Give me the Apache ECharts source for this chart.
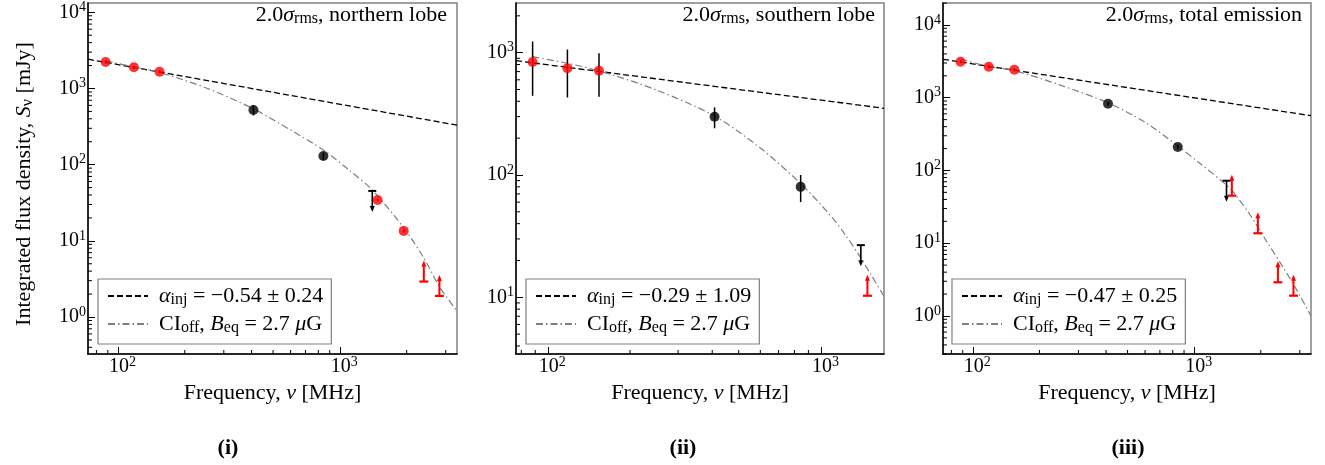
<!DOCTYPE html>
<html>
<head>
<meta charset="utf-8">
<script src="https://cdn.jsdelivr.net/npm/echarts@6/dist/echarts.min.js"></script>
<style>
html, body { margin: 0; padding: 0; background: #fff; }
#chart { width: 1325px; height: 465px; }
</style>
</head>
<body>
<div id="chart"></div>
<script>
var FONT = 'Liberation Serif';

// frequency [MHz], flux density [mJy], error [mJy]
var northRed = [[88, 2228, 100], [118, 1896, 90], [154, 1660, 80], [1480, 34.4, 1.2], [1940, 13.5, 0.5]];
var northBlack = [[408, 522, 80], [843, 130, 15]];
var northUpper = [[1400, 45.2]];
var northLower = [[2390, 2.92], [2810, 1.89]];
var northPL = [[73.3, 2420], [3372, 330]];
var northCI = [[88, 2300], [118, 1920], [154, 1622], [250, 1016], [408, 540], [600, 285], [843, 156],
               [1100, 85], [1400, 46.5], [1940, 14.8], [2390, 5.97], [2810, 2.5], [3372, 1.2]];

var southRed = [[88, 839, 395], [118, 745, 315], [154, 712, 275]];
var southBlack = [[408, 299, 58], [843, 80, 20]];
var southUpper = [[1400, 26.7]];
var southLower = [[1480, 10.3]];
var southPL = [[76.5, 860], [1702, 351]];
var southCI = [[88, 927], [118, 819], [154, 711], [250, 495], [408, 303], [600, 166], [843, 85],
               [1080, 47.1], [1230, 32.3], [1390, 21.5], [1515, 15.7], [1702, 10.2]];

var totalRed = [[88, 3128, 150], [118, 2669, 130], [154, 2427, 120]];
var totalBlack = [[408, 827, 60], [843, 210, 15]];
var totalUpper = [[1400, 72.3]];
var totalLower = [[1480, 45.0], [1940, 13.7], [2390, 2.90], [2810, 1.90]];
var totalPL = [[73.3, 3373], [3372, 566]];
var totalCI = [[88, 3400], [118, 2680], [154, 2360], [250, 1480], [408, 850], [600, 460], [843, 217],
               [1063, 125], [1400, 63], [1500, 51], [1790, 24.4], [2130, 10.5], [2530, 4.6], [2900, 2.3], [3372, 1.0]];

var panelTitles = ['northern lobe', 'southern lobe', 'total emission'];
var alphaText = ['\u22120.54 \u00b1 0.24', '\u22120.29 \u00b1 1.09', '\u22120.47 \u00b1 0.25'];
var subLabels = ['(i)', '(ii)', '(iii)'];
var xRanges = [[73.3, 3372], [76.5, 1702], [73.3, 3372]];
var yRanges = [[0.327, 13240], [3.44, 2547], [0.30, 20050]];
var minorMult = [2, 3, 4, 5, 6, 7, 8, 9];
var decades = [0.1, 1, 10, 100, 1000, 10000];

var grids = [
  {left: 88, top: 3, width: 369, height: 351},
  {left: 516, top: 3, width: 368, height: 351},
  {left: 943, top: 3, width: 368, height: 351}
];

var rich = {
  m: {fontFamily: FONT, fontSize: 20, color: '#000', lineHeight: 24},
  t: {fontFamily: FONT, fontSize: 22, color: '#000', lineHeight: 24},
  i: {fontFamily: FONT, fontSize: 22, fontStyle: 'italic', color: '#000', lineHeight: 24},
  sub: {fontFamily: FONT, fontSize: 16, color: '#000', lineHeight: 14, verticalAlign: 'bottom'},
  sup: {fontFamily: FONT, fontSize: 14, color: '#000', lineHeight: 6, verticalAlign: 'top'}
};

function powLabel(v) {
  var l = Math.log10(v);
  var e = Math.round(l);
  if (Math.abs(l - e) > 1e-6) return '';
  return '{m|10}{sup|' + e + '}';
}

function errRender(params, api) {
  var f = api.value(0), s = api.value(1), e = api.value(2);
  var a = api.coord([f, s - e]), b = api.coord([f, s + e]);
  return {type: 'line', shape: {x1: a[0], y1: a[1], x2: b[0], y2: b[1]},
          style: {stroke: '#000', lineWidth: 1.5}};
}

function upperRender(params, api) {
  var p = api.coord([api.value(0), api.value(1)]);
  return {type: 'group', children: [
    {type: 'line', shape: {x1: p[0] - 4, y1: p[1], x2: p[0] + 4, y2: p[1]}, style: {stroke: '#000', lineWidth: 2}},
    {type: 'line', shape: {x1: p[0], y1: p[1], x2: p[0], y2: p[1] + 16}, style: {stroke: '#000', lineWidth: 1.6}},
    {type: 'polygon', shape: {points: [[p[0] - 2.5, p[1] + 15], [p[0] + 2.5, p[1] + 15], [p[0], p[1] + 21]]},
     style: {fill: '#000'}}
  ]};
}

function lowerRender(params, api) {
  var p = api.coord([api.value(0), api.value(1)]);
  return {type: 'group', children: [
    {type: 'line', shape: {x1: p[0] - 4.5, y1: p[1], x2: p[0] + 4.5, y2: p[1]}, style: {stroke: '#ff0000', lineWidth: 2.2}},
    {type: 'line', shape: {x1: p[0], y1: p[1], x2: p[0], y2: p[1] - 16}, style: {stroke: '#ff0000', lineWidth: 2}},
    {type: 'polygon', shape: {points: [[p[0] - 2.5, p[1] - 15], [p[0] + 2.5, p[1] - 15], [p[0], p[1] - 21]]},
     style: {fill: '#ff0000'}}
  ]};
}

function minorRender(params, api) {
  var cs = params.coordSys;
  var kind = api.value(2);
  if (kind === 0) {
    var x = api.coord([api.value(0), api.value(1)])[0];
    var yb = cs.y + cs.height;
    return {type: 'line', shape: {x1: x, y1: yb, x2: x, y2: yb - 4}, style: {stroke: '#000', lineWidth: 1}};
  }
  var y = api.coord([api.value(0), api.value(1)])[1];
  return {type: 'line', shape: {x1: cs.x, y1: y, x2: cs.x + 4, y2: y}, style: {stroke: '#000', lineWidth: 1}};
}

function minorTicks(k) {
  var out = [];
  var xr = xRanges[k], yr = yRanges[k];
  decades.forEach(function (d) {
    minorMult.forEach(function (m) {
      var v = d * m;
      if (v > xr[0] && v < xr[1]) out.push([v, 10, 0]);
      if (v > yr[0] && v < yr[1]) out.push([100, v, 1]);
    });
  });
  return out;
}

var sets = [
  [northRed, northBlack, northUpper, northLower, northPL, northCI],
  [southRed, southBlack, southUpper, southLower, southPL, southCI],
  [totalRed, totalBlack, totalUpper, totalLower, totalPL, totalCI]
];

var legendText = {};
var series = [];
sets.forEach(function (s, k) {
  var plName = 'pl' + k, ciName = 'ci' + k;
  legendText[plName] = '{i|\u03b1}{sub|inj}{t| = ' + alphaText[k] + '}';
  legendText[ciName] = '{t|CI}{sub|off}{t|, }{i|B}{sub|eq}{t| = 2.7 }{i|\u03bc}{t|G}';
  series.push({name: plName, type: 'line', xAxisIndex: k, yAxisIndex: k, data: s[4], symbol: 'none',
    color: '#000', lineStyle: {color: '#000', width: 1.3, type: [6, 3]}, z: 2, silent: true});
  series.push({name: ciName, type: 'line', xAxisIndex: k, yAxisIndex: k, data: s[5], symbol: 'none',
    smooth: 0.3, color: '#7f7f7f', lineStyle: {color: '#7f7f7f', width: 1.2, type: [7, 3, 1.5, 3]}, z: 2, silent: true});
  series.push({type: 'custom', xAxisIndex: k, yAxisIndex: k, data: s[0].concat(s[1]), renderItem: errRender,
    encode: {x: 0, y: 1}, z: 3, silent: true});
  series.push({type: 'scatter', xAxisIndex: k, yAxisIndex: k, data: s[0].map(function (p) { return [p[0], p[1]]; }),
    symbolSize: 10, itemStyle: {color: '#ff0000'}, z: 4, silent: true});
  series.push({type: 'scatter', xAxisIndex: k, yAxisIndex: k, data: s[1].map(function (p) { return [p[0], p[1]]; }),
    symbolSize: 10, itemStyle: {color: '#000'}, z: 4, silent: true});
  series.push({type: 'custom', xAxisIndex: k, yAxisIndex: k, data: s[2], renderItem: upperRender,
    encode: {x: 0, y: 1}, z: 5, silent: true});
  series.push({type: 'custom', xAxisIndex: k, yAxisIndex: k, data: s[3], renderItem: lowerRender,
    encode: {x: 0, y: 1}, z: 5, silent: true});
  series.push({type: 'custom', xAxisIndex: k, yAxisIndex: k, data: minorTicks(k), renderItem: minorRender,
    encode: {x: 0, y: 1}, clip: false, z: 6, silent: true});
});

var legendLeft = [98, 526, 952];
var titleRight = [447, 875, 1302];
var subCenter = [228, 683, 1128];

var option = {
  animation: false,
  backgroundColor: '#fff',
  textStyle: {fontFamily: FONT},
  grid: grids.map(function (g) {
    return {left: g.left, top: g.top, width: g.width, height: g.height, show: true,
            borderColor: '#808080', borderWidth: 1.5, backgroundColor: 'transparent', containLabel: false};
  }),
  xAxis: xRanges.map(function (r, k) {
    return {type: 'log', logBase: 10, gridIndex: k, min: r[0], max: r[1],
      name: 'Frequency, {i|\u03bd} [MHz]', nameLocation: 'middle', nameGap: 24,
      nameTextStyle: {fontFamily: FONT, fontSize: 22, color: '#000', rich: rich},
      axisLine: {onZero: false, lineStyle: {color: '#000', width: 1.5}},
      axisTick: {inside: true, length: 7, lineStyle: {color: '#000', width: 1}},
      axisLabel: {formatter: powLabel, margin: 1, padding: [0, 0, 0, 9], showMinLabel: false, showMaxLabel: false,
                  fontFamily: FONT, fontSize: 20, color: '#000', rich: rich},
      splitLine: {show: false}, minorTick: {show: false}};
  }),
  yAxis: yRanges.map(function (r, k) {
    var ax = {type: 'log', logBase: 10, gridIndex: k, min: r[0], max: r[1],
      axisLine: {onZero: false, lineStyle: {color: '#000', width: 1.5}},
      axisTick: {inside: true, length: 7, lineStyle: {color: '#000', width: 1}},
      axisLabel: {formatter: powLabel, margin: 2, showMinLabel: false, showMaxLabel: false,
                  fontFamily: FONT, fontSize: 20, color: '#000', rich: rich},
      splitLine: {show: false}, minorTick: {show: false}};
    if (k === 0) {
      ax.name = 'Integrated flux density, {i|S}{sub|\u03bd} [mJy]';
      ax.nameLocation = 'middle';
      ax.nameGap = 52;
      ax.nameTextStyle = {fontFamily: FONT, fontSize: 22, color: '#000', rich: rich, padding: [0, 11, 0, 0]};
    }
    return ax;
  }),
  title: panelTitles.map(function (t, k) {
    return {text: '{t|2.0}{i|\u03c3}{sub|rms}{t|, ' + t + '}', left: titleRight[k], top: 3, textAlign: 'right', padding: 0,
            textStyle: {fontFamily: FONT, fontSize: 22, fontWeight: 'normal', color: '#000', rich: rich}};
  }).concat(subLabels.map(function (t, k) {
    return {text: t, left: subCenter[k], top: 437, textAlign: 'center', padding: 0,
            textStyle: {fontFamily: FONT, fontSize: 22, fontWeight: 'bold', color: '#000'}};
  })),
  legend: legendLeft.map(function (l, k) {
    return {left: l, top: 279, orient: 'vertical', padding: [5, 8, 8, 9], itemGap: 4, itemWidth: 40, itemHeight: 14,
      borderColor: '#808080', borderWidth: 1.2, borderRadius: 0, backgroundColor: '#fff', selectedMode: false,
      data: ['pl' + k, 'ci' + k],
      itemStyle: {opacity: 0},
      formatter: function (name) { return legendText[name]; },
      textStyle: {fontFamily: FONT, fontSize: 22, color: '#000', lineHeight: 24, padding: [0, 0, 0, 6], rich: rich}};
  }),
  series: series
};

var myChart = echarts.init(document.getElementById('chart'));
myChart.setOption(option);
</script>
</body>
</html>
